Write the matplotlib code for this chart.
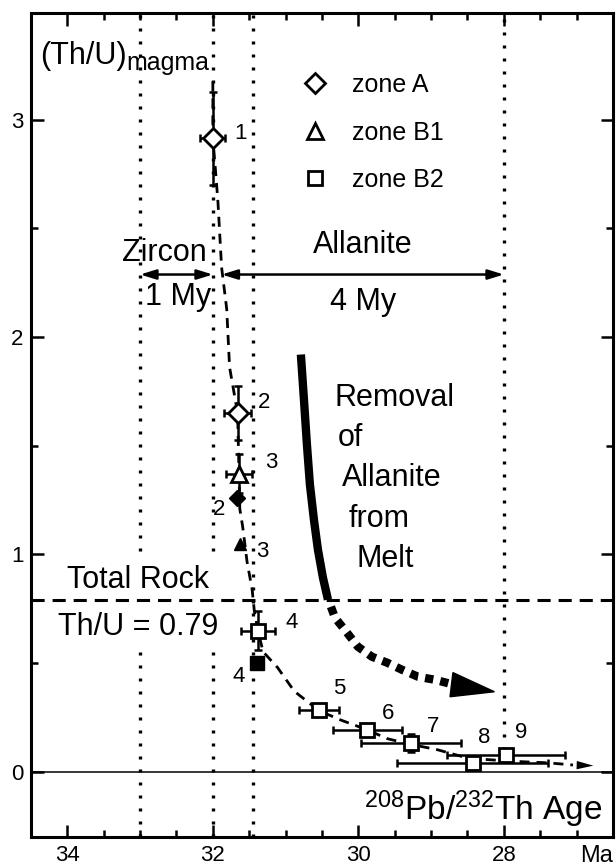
import numpy as np
import matplotlib
matplotlib.use('Agg')
import matplotlib.pyplot as plt
from matplotlib.patches import Polygon

plt.rcParams['font.family'] = ['Liberation Sans', 'DejaVu Sans']
plt.rcParams['mathtext.fontset'] = 'custom'
plt.rcParams['mathtext.rm'] = 'Liberation Sans'
plt.rcParams['mathtext.it'] = 'Liberation Sans:italic'

# zircon analyses: 208Pb/232Th age (Ma) and (Th/U) of the magma
zoneA_age = [32.00, 31.66]
zoneA_thu = [2.913, 1.652]
zoneA_xerr = [0.17, 0.18]
zoneA_yerr = [0.215, 0.124]
zoneA_lab = ['1', '2']

zoneB1_age = [31.64]
zoneB1_thu = [1.371]
zoneB1_xerr = [0.18]
zoneB1_yerr = [0.09]
zoneB1_lab = ['3']

zoneB2_age = [31.38, 30.54, 29.88, 29.28, 28.43, 27.97]
zoneB2_thu = [0.649, 0.285, 0.193, 0.133, 0.041, 0.078]
zoneB2_xerr = [0.23, 0.27, 0.475, 0.69, 1.04, 0.81]
zoneB2_yerr = [0.09, 0.02, 0.027, 0.04, 0.02, 0.02]
zoneB2_lab = ['4', '5', '6', '7', '8', '9']

# filled symbols (diamond, triangle, square)
filled_age = [31.67, 31.63, 31.39]
filled_thu = [1.261, 1.049, 0.50]
filled_lab = ['2', '3', '4']

# dashed evolution path
curve_age = [32.00, 32.00, 31.96, 31.93, 31.88, 31.81, 31.77, 31.66, 31.64, 31.63,
             31.59, 31.53, 31.46, 31.43, 31.38, 31.31, 31.11, 30.88, 30.54, 30.25,
             29.88, 29.60, 29.32, 28.91, 28.51, 28.19, 27.74, 27.39, 27.05]
curve_thu = [3.175, 2.913, 2.75, 2.62, 2.32, 2.13, 1.86, 1.65, 1.37, 1.21,
             1.127, 0.966, 0.838, 0.74, 0.649, 0.552, 0.479, 0.37, 0.281, 0.239,
             0.193, 0.152, 0.129, 0.101, 0.064, 0.055, 0.046, 0.041, 0.031]
curve_tip = (26.77, 0.028)

total_rock = 0.79
zircon_span = (33.0, 32.0)
allanite_span = (31.88, 28.0)
boundary_ages = [33.0, 32.0, 31.45]

# "removal of allanite" arrow
removal_solid_age = [30.790, 30.748, 30.707, 30.666, 30.611, 30.556, 30.487, 30.418]
removal_solid_thu = [1.919, 1.712, 1.505, 1.321, 1.160, 1.022, 0.893, 0.792]
removal_dot_age = [30.377, 30.322, 30.157, 30.006, 29.813, 29.607, 29.400, 29.180, 28.946, 28.740]
removal_dot_thu = [0.759, 0.709, 0.640, 0.575, 0.529, 0.502, 0.469, 0.437, 0.423, 0.405]
removal_head = [(28.70, 0.456), (28.74, 0.345), (28.13, 0.368)]

fsize = 22

fig = plt.figure(figsize=(6.16, 8.65), dpi=100)
ax = fig.add_axes([0.0503, 0.0324, 0.9448, 0.9526])

# dotted time markers
for a in boundary_ages:
    ax.plot([a, a], [-0.3, 3.5], color='k', lw=2.4, dashes=(0.9, 3.0), zorder=1)
ax.plot([28.0, 28.0], [0.1, 3.5], color='k', lw=2.4, dashes=(0.9, 3.0), zorder=1)

# total rock line and zero line
ax.axhline(total_rock, color='k', lw=2.2, dashes=(4.3, 2.6), zorder=3)
ax.axhline(0, color='k', lw=1.1, zorder=3)

# evolution path
ax.plot(curve_age, curve_thu, color='k', lw=2, dashes=(3.6, 2.5), zorder=4)
ax.annotate('', xy=curve_tip, xytext=(curve_age[-1], curve_thu[-1]),
            arrowprops=dict(arrowstyle='-|>,head_length=1.2,head_width=0.3',
                            mutation_scale=10, color='k', lw=0,
                            shrinkA=0, shrinkB=0), zorder=4)

# error bars
for age, thu, xe, ye in [(zoneA_age, zoneA_thu, zoneA_xerr, zoneA_yerr),
                         (zoneB1_age, zoneB1_thu, zoneB1_xerr, zoneB1_yerr),
                         (zoneB2_age, zoneB2_thu, zoneB2_xerr, zoneB2_yerr)]:
    ax.errorbar(age, thu, xerr=xe, yerr=ye, fmt='none', ecolor='k',
                elinewidth=1.8, capsize=3, capthick=1.8, zorder=5)

hA, = ax.plot(zoneA_age, zoneA_thu, 'D', ls='none', mfc='white', mec='k',
              mew=2, ms=10, zorder=6, label='zone A')
hB1, = ax.plot(zoneB1_age, zoneB1_thu, '^', ls='none', mfc='white', mec='k',
               mew=2, ms=11, zorder=6, label='zone B1')
hB2, = ax.plot(zoneB2_age, zoneB2_thu, 's', ls='none', mfc='white', mec='k',
               mew=2, ms=10, zorder=6, label='zone B2')

for mk, a, t, ms in zip(['D', '^', 's'], filled_age, filled_thu, [8, 9, 9.5]):
    ax.plot(a, t, mk, color='k', ms=ms, zorder=6)

# point numbers
lab_off = {'A': [(20, 3.6), (18.7, 7.2)],
           'B1': [(23, 8)],
           'B2': [(24.5, 5.8), (14.4, 15), (15, 12), (16, 11.5), (8.6, 18), (10.8, 15.8)],
           'F': [(-13, -8.6), (16.5, -5.8), (-13.7, -10)]}
for key, age, thu, lab in [('A', zoneA_age, zoneA_thu, zoneA_lab),
                           ('B1', zoneB1_age, zoneB1_thu, zoneB1_lab),
                           ('B2', zoneB2_age, zoneB2_thu, zoneB2_lab),
                           ('F', filled_age, filled_thu, filled_lab)]:
    for a, t, l, off in zip(age, thu, lab, lab_off[key]):
        ax.annotate(l, xy=(a, t), xytext=off, textcoords='offset points',
                    ha='center', va='center', fontsize=16, zorder=7)

# removal of allanite arrow
ax.plot(removal_solid_age, removal_solid_thu, color='k', lw=6,
        solid_capstyle='butt', solid_joinstyle='round', zorder=4)
ax.plot(removal_dot_age, removal_dot_thu, color='k', lw=6,
        dashes=(1, 0.85), dash_capstyle='butt', zorder=4)
ax.add_patch(Polygon(removal_head, closed=True, color='k', zorder=4))

removal_lines = ['Removal', 'of', 'Allanite', 'from', 'Melt']
removal_x = [30.33, 30.29, 30.22, 30.14, 30.03]
removal_y = [1.68, 1.496, 1.316, 1.128, 0.943]
for s, x, y in zip(removal_lines, removal_x, removal_y):
    ax.text(x, y, s, fontsize=fsize, ha='left', va='baseline')

# zircon / allanite intervals
arrow_kw = dict(arrowstyle='<|-|>,head_length=0.94,head_width=0.29',
                mutation_scale=10, color='k', lw=1.8, shrinkA=0, shrinkB=0)
ax.annotate('', xy=(zircon_span[1], 2.287), xytext=(zircon_span[0], 2.287),
            arrowprops=arrow_kw)
ax.annotate('', xy=(allanite_span[1], 2.287), xytext=(allanite_span[0], 2.287),
            arrowprops=arrow_kw)
ax.text(33.25, 2.347, 'Zircon', fontsize=fsize, ha='left', va='baseline')
ax.text(32.93, 2.149, '1 My', fontsize=fsize, ha='left', va='baseline')
ax.text(30.62, 2.388, 'Allanite', fontsize=fsize, ha='left', va='baseline')
ax.text(30.39, 2.126, '4 My', fontsize=fsize, ha='left', va='baseline')

ax.text(34.01, 0.847, 'Total Rock', fontsize=fsize, ha='left', va='baseline',
        bbox=dict(fc='white', ec='none', pad=5), zorder=2)
ax.text(34.13, 0.630, 'Th/U = 0.79', fontsize=fsize, ha='left', va='baseline',
        bbox=dict(fc='white', ec='none', pad=7), zorder=2)

t_mag = ax.text(34.38, 3.254, '(Th/U)', fontsize=fsize, ha='left', va='baseline')
ax.annotate('magma', xy=(1, 0), xycoords=t_mag, xytext=(0, -2.6),
            textcoords='offset points', fontsize=18, ha='left', va='bottom')
ax.text(26.64, -0.221, r'$^{208}$Pb/$^{232}$Th Age', fontsize=24,
        ha='right', va='baseline')
ax.text(1.0, -0.030, 'Ma', fontsize=17, ha='right', va='baseline',
        transform=ax.transAxes)

ax.legend(handles=[hA, hB1, hB2], loc='upper left', bbox_to_anchor=(0.4665, 0.927),
          frameon=False, fontsize=18, handlelength=1, handletextpad=1.0,
          labelspacing=0.94, borderpad=0, borderaxespad=0)

ax.set_xlim(34.5, 26.5)
ax.set_ylim(-0.3, 3.49)
ax.set_xticks([34, 32, 30, 28])
ax.set_xticks(np.arange(26.5, 34.51, 0.5), minor=True)
ax.set_xticklabels(['34', '32', '30', '28'])
ax.set_yticks([0, 1, 2, 3])
ax.set_yticks([0.5, 1.5, 2.5], minor=True)
ax.tick_params(which='both', direction='in', top=True, right=True,
               width=1.8, labelsize=16, pad=5.5)
ax.tick_params(which='major', length=9)
ax.tick_params(which='minor', length=5)
for sp in ax.spines.values():
    sp.set_linewidth(2.2)

plt.savefig('out.png', dpi=100)
